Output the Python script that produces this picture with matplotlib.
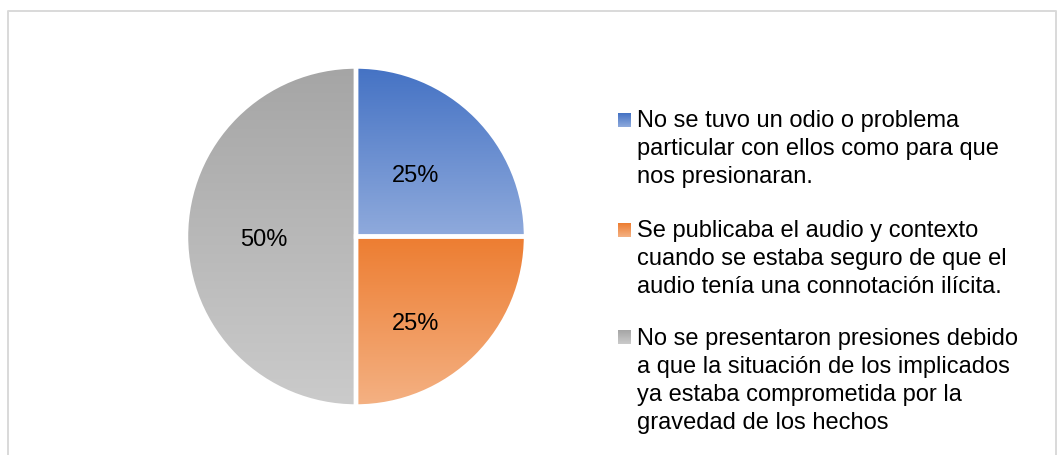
import numpy as np
import matplotlib
matplotlib.use("Agg")
import matplotlib.pyplot as plt
from matplotlib.colors import to_rgb
from matplotlib.patches import Rectangle
from matplotlib.lines import Line2D

plt.rcParams['font.family'] = ['Liberation Sans', 'DejaVu Sans']

# ---- data ----
labels = [
    "No se tuvo un odio o problema\nparticular con ellos como para que\nnos presionaran.",
    "Se publicaba el audio y contexto\ncuando se estaba seguro de que el\naudio tenía una connotación ilícita.",
    "No se presentaron presiones debido\na que la situación de los implicados\nya estaba comprometida por la\ngravedad de los hechos",
]
values = [25, 25, 50]
top_colors = ["#4472C4", "#ED7D31", "#A5A5A5"]
bottom_colors = ["#8FAADC", "#F4B183", "#CBCBCB"]

W, H = 1057, 455
fig = plt.figure(figsize=(W / 100, H / 100), dpi=100)

# overlay axes in pixel coordinates
ov = fig.add_axes([0, 0, 1, 1])
ov.set_xlim(0, W)
ov.set_ylim(H, 0)
ov.axis('off')

# chart border (left, top, right)
ov.add_line(Line2D([7.5, 7.5, 1056, 1056], [H + 5, 10.8, 10.8, H + 5],
                   color='#D9D9D9', lw=1.4))

# pie axes
R_PX = 170
cx, cy = 356, 236.5
lim = 1.2
size = 2 * lim * R_PX
ax = fig.add_axes([(cx - size / 2) / W, ((H - cy) - size / 2) / H, size / W, size / H])

fs = 17
wedges, texts, autotexts = ax.pie(
    values, startangle=90, counterclock=False, radius=1,
    autopct='%1.0f%%', pctdistance=0.55,
    wedgeprops=dict(facecolor='none', edgecolor='white', linewidth=3.2, zorder=3),
    textprops=dict(fontsize=fs, color='black'),
)
# label placement offsets (pixels from pie centre, as in the reference layout)
label_px = [(60, 61), (60, -87), (-92, -3)]
for t, (dx, dy) in zip(autotexts, label_px):
    t.set_position((dx / R_PX, dy / R_PX))
    t.set_zorder(5)


def gradient(tc, bc, n=256):
    a = np.array(to_rgb(tc))
    b = np.array(to_rgb(bc))
    t = np.linspace(0, 1, n)[:, None]
    return (a * (1 - t) + b * t)[:, None, :]


for w, tc, bc in zip(wedges, top_colors, bottom_colors):
    ext = w.get_path().get_extents()
    im = ax.imshow(gradient(tc, bc), extent=[ext.x0, ext.x1, ext.y0, ext.y1],
                   origin='upper', aspect='auto', zorder=1, interpolation='bilinear')
    im.set_clip_path(w)

ax.set_xlim(-lim, lim)
ax.set_ylim(-lim, lim)
ax.set_aspect('equal')
ax.axis('off')

# legend (manual, gradient markers)
clip = Rectangle((0, 0), W, 433, transform=ov.transData, visible=False)
ov.add_patch(clip)
first_baselines = [127.5, 237, 344.5]
line_step = 28
for lab, tc, bc, b0 in zip(labels, top_colors, bottom_colors, first_baselines):
    im = ov.imshow(gradient(tc, bc), extent=[618, 631, b0, b0 - 14],
                   origin='upper', aspect='auto', zorder=2)
    for i, line in enumerate(lab.split("\n")):
        t = ov.text(637, b0 + i * line_step, line, fontsize=fs, color='black',
                    va='baseline', ha='left')
        t.set_clip_path(clip)
ov.set_xlim(0, W)
ov.set_ylim(H, 0)

fig.savefig("out.png", dpi=100)
